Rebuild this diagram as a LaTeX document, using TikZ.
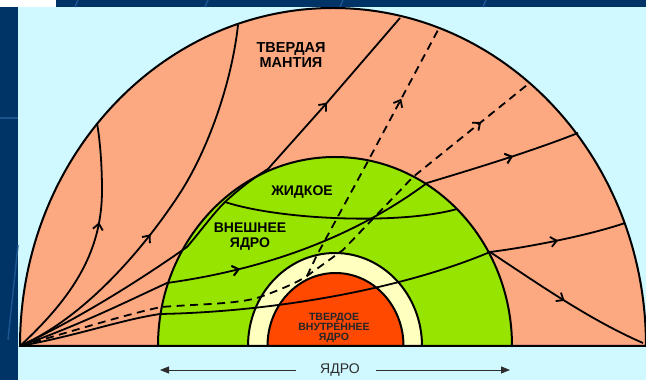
\documentclass[tikz,border=0pt]{standalone}
\usepackage{fontspec}
\setmainfont{Liberation Sans}
\usetikzlibrary{arrows.meta, decorations.markings}

\definecolor{slidebg}{RGB}{207,248,255}
\definecolor{slideblue}{RGB}{0,51,102}
\definecolor{streak}{RGB}{28,84,142}
\definecolor{mantle}{RGB}{252,168,128}
\definecolor{outercore}{RGB}{150,228,0}
\definecolor{transition}{RGB}{255,255,192}
\definecolor{innercore}{RGB}{255,72,0}
\definecolor{spangray}{RGB}{45,45,45}

\begin{document}
\begin{tikzpicture}[
    x=1pt, y=1pt,
    shell/.style={draw=black, line width=2pt},
    ray/.style={draw=black, line width=1.8pt},
    sray/.style={ray, dash pattern=on 8pt off 5.5pt},
    arrowat/.style={postaction={decorate}, decoration={markings,
        mark=at position #1 with {\arrow{Straight Barb[length=6pt,width=10pt]}}}},
    zonetext/.style={font=\bfseries\fontsize{14}{15}\selectfont, align=center, inner sep=0pt},
    span/.style={draw=spangray, line width=0.9pt, -{Triangle[length=9pt,width=7pt]}}
]
    \useasboundingbox (0,0) rectangle (646,380);

    % ==================== SLIDE BACKGROUND ====================
    \fill[slidebg] (0,0) rectangle (646,380);
    \fill[slideblue] (0,0) rectangle (18,373);
    \fill[slideblue] (56,373) rectangle (646,380);
    \fill[white] (0,373) rectangle (56,380);
    % faint streaks on the frame
    \draw[streak, line width=1.2pt] (0,262) -- (18,262);
    \draw[streak, line width=1.5pt] (18,135) -- (8,40);
    \foreach \sx in {75, 205, 340, 483}
        \draw[streak, line width=1.5pt] (\sx,373) -- (\sx+3,380);

    % ==================== EARTH SHELLS ====================
    \coordinate (O) at (20,34);
    \filldraw[shell, fill=mantle] (20,34) arc[start angle=180, end angle=0, x radius=313, y radius=338] -- cycle;
    \filldraw[shell, fill=outercore] (158,34) arc[start angle=180, end angle=0, x radius=177, y radius=189] -- cycle;
    \filldraw[shell, fill=transition] (248,34) arc[start angle=180, end angle=0, x radius=87, y radius=93] -- cycle;
    \filldraw[shell, fill=innercore] (267.5,34) arc[start angle=180, end angle=0, x radius=68, y radius=73] -- cycle;

    % ==================== RAYS IN THE MANTLE ====================
    \draw[ray, arrowat=0.6] (O) .. controls (75,85) and (102,130) .. (102,190)
        .. controls (102,215) and (100,240) .. (97,257);
    \draw[ray, arrowat=0.43] (O) .. controls (90,65) and (150,140) .. (182,190)
        .. controls (210,235) and (232,300) .. (238,355);

    % grazing ray, runs just inside the edge of the core
    \coordinate (graze) at (225,178);
    \draw[ray, arrowat=0.78] (O) .. controls (80,62) and (140,100) .. (187,133)
        .. controls (200,148) and (212,165) .. (graze)
        .. controls (240,192) and (255,203) .. (268,211) -- (325,275) -- (400,362);

    % ==================== RAYS THROUGH THE OUTER CORE ====================
    \draw[ray, arrowat=0.39, arrowat=0.885] (O) .. controls (80,55) and (130,80) .. (167,97)
        .. controls (260,110) and (350,140) .. (427,197)
        .. controls (470,210) and (530,228) .. (578,247);
    \draw[ray] (graze) .. controls (280,160) and (400,155) .. (457,171);

    % ray through the inner core and its two exits
    \coordinate (exit) at (490,128);
    \draw[ray] (O) .. controls (80,45) and (120,60) .. (160,66)
        .. controls (270,68) and (400,90) .. (exit);
    \draw[ray, arrowat=0.5] (exit) .. controls (530,133) and (590,145) .. (625,157);
    \draw[ray, arrowat=0.5] (exit) .. controls (540,95) and (590,60) .. (643,37);

    % ==================== DASHED RAYS ====================
    \coordinate (turn) at (307,104);
    \draw[sray, arrowat=0.9] (O) .. controls (70,48) and (120,64) .. (161,73)
        .. controls (200,76) and (240,76) .. (260,83)
        .. controls (280,90) and (298,98) .. (turn)
        -- (343,130) -- (413,203) -- (527,295);
    \draw[sray, arrowat=0.72] (turn) -- (317,125) -- (367,217) -- (438,350);

    % ==================== LABELS ====================
    \node[zonetext, font=\bfseries\fontsize{14.5}{15}\selectfont] (mantleText) at (291,325) {ТВЕРДАЯ\\МАНТИЯ};
    \node[zonetext] (liquidText) at (302,188) {ЖИДКОЕ};
    \node[zonetext] (outerText) at (250,143.5) {ВНЕШНЕЕ\\ЯДРО};
    \node[zonetext, font=\bfseries\fontsize{10.5}{10}\selectfont, text=black!85] (innerText) at (334,52.5) {ТВЕРДОЕ\\ВНУТРЕННЕЕ\\ЯДРО};

    % core span
    \node[font=\fontsize{14}{14}\selectfont, text=spangray, inner sep=0pt] (coreText) at (340,10) {ЯДРО};
    \coordinate (spanL) at (160,10);
    \coordinate (spanR) at (510,10);
    \draw[span] ([xshift=-24pt]coreText.west) -- (spanL);
    \draw[span] ([xshift=16pt]coreText.east) -- (spanR);

\end{tikzpicture}
\end{document}
